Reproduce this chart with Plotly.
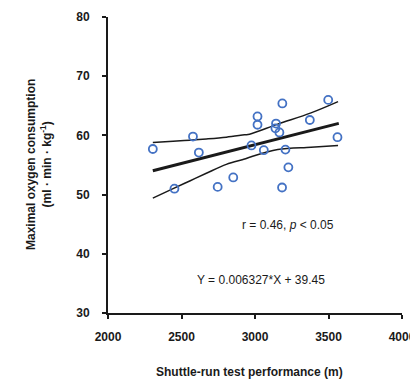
import plotly.graph_objects as go

# Data points
shuttle_run = [2305, 2452, 2578, 2618, 2746, 2852, 2976, 3017, 3017, 3060,
               3186, 3143, 3139, 3166, 3207, 3227, 3184, 3373, 3498, 3561]
vo2max = [57.7, 51.0, 59.8, 57.1, 51.3, 52.9, 58.3, 63.2, 61.8, 57.5,
          65.4, 62.0, 61.2, 60.5, 57.6, 54.6, 51.2, 62.6, 66.0, 59.7]

# Regression line (from printed equation)
slope = 0.006327
intercept = 39.45
line_x = [2305, 3570]
line_y = [slope * x + intercept for x in line_x]

# Confidence band curves
band_x = [2305, 2443, 2556, 2669, 2805, 2929, 2963, 3155, 3381, 3565]
band_upper = [58.8, 59.0, 59.2, 59.4, 59.7, 60.1, 60.2, 61.9, 63.8, 65.7]
band_lower = [49.4, 51.0, 52.3, 53.6, 55.1, 56.0, 56.3, 57.6, 58.0, 58.3]

x_ticks = [2000, 2500, 3000, 3500, 4000]
y_ticks = [30, 40, 50, 60, 70, 80]

FONT = "Liberation Sans, Arial, sans-serif"

fig = go.Figure()
fig.add_trace(go.Scatter(x=band_x, y=band_upper, mode="lines", line=dict(color="#1a1a1a", width=1.5, shape="spline"), hoverinfo="skip"))
fig.add_trace(go.Scatter(x=band_x, y=band_lower, mode="lines", line=dict(color="#1a1a1a", width=1.5, shape="spline"), hoverinfo="skip"))
fig.add_trace(go.Scatter(x=line_x, y=line_y, mode="lines", line=dict(color="#1a1a1a", width=3), hoverinfo="skip"))
fig.add_trace(go.Scatter(x=shuttle_run, y=vo2max, mode="markers",
                         marker=dict(symbol="circle-open", size=8, color="#4472c4", line=dict(width=1.8, color="#4472c4"))))

fig.update_layout(
    width=410, height=371,
    margin=dict(l=100, r=16, t=9, b=66),
    plot_bgcolor="white", paper_bgcolor="white",
    showlegend=False,
    font=dict(family=FONT, color="#1a1a1a"),
)
fig.update_xaxes(range=[2000, 4000], tickvals=x_ticks, showgrid=False, zeroline=False, automargin=False,
                 showline=True, linecolor="#1a1a1a", linewidth=2,
                 ticks="outside", ticklen=4, tickwidth=2, tickcolor="#1a1a1a",
                 tickfont=dict(size=12, family=FONT, weight="bold"), ticklabelstandoff=8)
fig.update_yaxes(range=[30, 80], tickvals=y_ticks, showgrid=False, zeroline=False, automargin=False,
                 showline=True, linecolor="#1a1a1a", linewidth=2,
                 ticks="outside", ticklen=4, tickwidth=2, tickcolor="#1a1a1a",
                 tickfont=dict(size=12, family=FONT, weight="bold"), ticklabelstandoff=10)

fig.add_annotation(text="<b>Maximal oxygen consumption</b><br><b>(ml · min · kg<sup>-1</sup>)</b>",
                   xref="paper", yref="paper", x=0, y=0.5, xanchor="center", yanchor="middle",
                   xshift=-69, textangle=-90, showarrow=False, font=dict(size=12, family=FONT))
fig.add_annotation(text="<b>Shuttle-run test performance (m)</b>",
                   xref="paper", yref="paper", x=0.5, y=0, xanchor="center", yanchor="middle",
                   yshift=-59, xshift=-6, showarrow=False, font=dict(size=12, family=FONT))
fig.add_annotation(text="r = 0.46, <i>p</i> < 0.05", x=3227, y=44.9, xanchor="center", yanchor="middle",
                   showarrow=False, font=dict(size=12, family=FONT))
fig.add_annotation(text="Y = 0.006327*X + 39.45", x=3044, y=35.6, xanchor="center", yanchor="middle",
                   showarrow=False, font=dict(size=12, family=FONT))

fig.write_html("out.html")
